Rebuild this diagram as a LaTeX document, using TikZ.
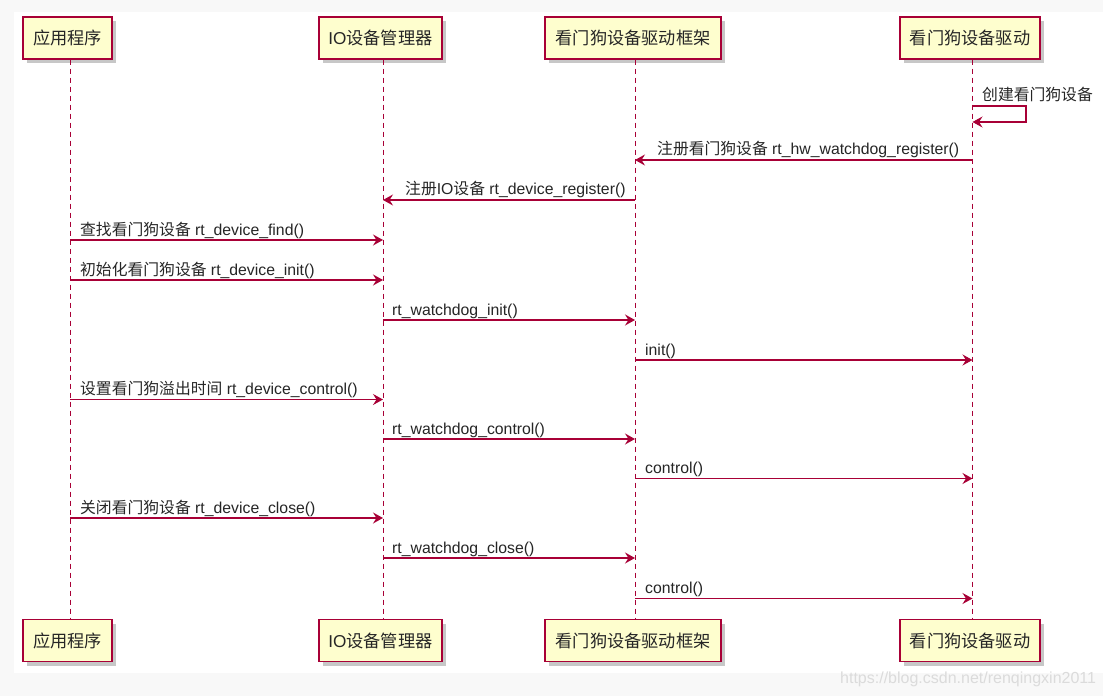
\documentclass[tikz,border=0pt]{standalone}
\usepackage{fontspec}
\setmainfont{Liberation Sans}
\newfontfamily\cjk{Noto Sans CJK SC}
\usetikzlibrary{arrows.meta,shadows}
\definecolor{pborder}{HTML}{A80036}
\definecolor{pfill}{HTML}{FEFECE}
\definecolor{bgout}{HTML}{F8F8F8}
\definecolor{txt}{HTML}{262626}
\tikzset{
  part/.style={draw=pborder, line width=1.4bp, fill=pfill, minimum height=42bp, inner sep=0pt,
    text=txt, font=\fontsize{17.2bp}{20bp}\selectfont,
    drop shadow={shadow xshift=4bp, shadow yshift=-4bp, fill=black, opacity=0.22}},
  life/.style={draw=pborder, line width=1bp, dash pattern=on 5bp off 4bp},
  arr/.style={draw=pborder, line width=1.1bp, -{Stealth[length=10bp,width=11bp,inset=3.5bp]}},
  lbl/.style={anchor=base west, inner sep=0pt, text=txt, font=\fontsize{15.8bp}{19bp}\selectfont},
}
\newcommand\seqarrow[4]{%
  \coordinate (#1s) at (#2,#4);
  \coordinate (#1e) at (#3,#4);
  \draw[arr] (#1s) -- (#1e);}
\begin{document}
\begin{tikzpicture}[x=1bp,y=-1bp]
\useasboundingbox (0,0) rectangle (1103,696);
\fill[bgout] (0,0) rectangle (1103,696);
\fill[white] (14,12) rectangle (1103,673);

% participants (top)
\node[part, minimum width=89bp]  (t1) at (67.5,38) {{\cjk 应用程序}};
\node[part, minimum width=123bp] (t2) at (380.5,38) {IO{\cjk 设备管理器}};
\node[part, minimum width=176bp] (t3) at (633,38) {{\cjk 看门狗设备驱动框架}};
\node[part, minimum width=140bp] (t4) at (970,38) {{\cjk 看门狗设备驱动}};
% participants (bottom)
\node[part, minimum width=89bp]  (b1) at (67.5,640.5) {{\cjk 应用程序}};
\node[part, minimum width=123bp] (b2) at (380.5,640.5) {IO{\cjk 设备管理器}};
\node[part, minimum width=176bp] (b3) at (633,640.5) {{\cjk 看门狗设备驱动框架}};
\node[part, minimum width=140bp] (b4) at (970,640.5) {{\cjk 看门狗设备驱动}};

% lifelines
\draw[life] ([xshift=2.5bp]t1.south) -- ([xshift=2.5bp]b1.north);
\draw[life] ([xshift=2.5bp]t2.south) -- ([xshift=2.5bp]b2.north);
\draw[life] ([xshift=2.5bp]t3.south) -- ([xshift=2.5bp]b3.north);
\draw[life] ([xshift=2.5bp]t4.south) -- ([xshift=2.5bp]b4.north);

% self message
\coordinate (s1) at (972.5,106);
\coordinate (s2) at (972.5,122);
\draw[arr] (s1) -- ++(53.5,0) -- ++(0,16) -- (s2);
\node[lbl] (l1) at (982,101) {{\cjk 创建看门狗设备}};

% messages
\seqarrow{m2}{972.5}{635}{160}
\node[lbl] (l2) at (657,155) {{\cjk 注册看门狗设备} rt\_hw\_watchdog\_register()};
\seqarrow{m3}{635}{383}{200}
\node[lbl] (l3) at (405,195) {{\cjk 注册}IO{\cjk 设备} rt\_device\_register()};
\seqarrow{m4}{70}{383}{240}
\node[lbl] (l4) at (80,235) {{\cjk 查找看门狗设备} rt\_device\_find()};
\seqarrow{m5}{70}{383}{280}
\node[lbl] (l5) at (80,275) {{\cjk 初始化看门狗设备} rt\_device\_init()};
\seqarrow{m6}{383}{635}{320}
\node[lbl] (l6) at (392,315) {rt\_watchdog\_init()};
\seqarrow{m7}{635}{972.5}{360}
\node[lbl] (l7) at (645,355) {init()};
\seqarrow{m8}{70}{383}{399.5}
\node[lbl] (l8) at (80,394.5) {{\cjk 设置看门狗溢出时间} rt\_device\_control()};
\seqarrow{m9}{383}{635}{439}
\node[lbl] (l9) at (392,434) {rt\_watchdog\_control()};
\seqarrow{m10}{635}{972.5}{478.5}
\node[lbl] (l10) at (645,473.5) {control()};
\seqarrow{m11}{70}{383}{518}
\node[lbl] (l11) at (80,513) {{\cjk 关闭看门狗设备} rt\_device\_close()};
\seqarrow{m12}{383}{635}{558}
\node[lbl] (l12) at (392,553) {rt\_watchdog\_close()};
\seqarrow{m13}{635}{972.5}{598.5}
\node[lbl] (l13) at (645,593.5) {control()};

% watermark
\node[anchor=base west, inner sep=0pt, text=black!14, font=\fontsize{16bp}{18bp}\selectfont] (wm) at (840,683) {https://blog.csdn.net/renqingxin2011};
\end{tikzpicture}
\end{document}
